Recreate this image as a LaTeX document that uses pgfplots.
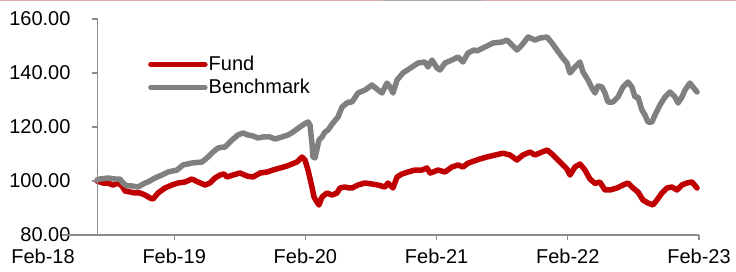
\documentclass[border=0pt]{standalone}
\usepackage{pgfplots}
\pgfplotsset{compat=1.18}
\usepackage{fontspec}
\setmainfont{Liberation Sans}
\definecolor{fundred}{HTML}{C00000}
\definecolor{benchgray}{HTML}{808080}
\definecolor{axgray}{HTML}{8C8C8C}
\definecolor{toppink}{HTML}{DDAAAA}
\definecolor{topgray}{HTML}{A8A8A8}
\begin{document}
\begin{tikzpicture}[x=1pt,y=1pt]
\begin{axis}[
  at={(43pt,36pt)}, anchor=south west,
  width=656pt, height=216pt, scale only axis,
  xmin=0, xmax=60, ymin=80, ymax=160,
  clip=false,
  axis line style={draw=none},
  major tick length=0pt,
  xtick={0,12,24,36,48,60},
  xticklabels={Feb-18,Feb-19,Feb-20,Feb-21,Feb-22,Feb-23},
  ytick={80,100,120,140,160},
  /pgf/number format/fixed,
  /pgf/number format/fixed zerofill,
  /pgf/number format/precision=2,
  /pgf/number format/assume math mode=true,
  ticklabel style={font=\fontsize{20}{24}\selectfont, text=black},
  yticklabel style={anchor=east, xshift=31pt},
  xticklabel style={anchor=north, yshift=-13pt, inner ysep=1pt},
  legend style={draw=none, fill=none, at={(axis cs:9.6,138.9)}, anchor=west,
    font=\fontsize{20}{24}\selectfont, inner sep=0pt, row sep=5pt,
    nodes={inner sep=1pt}},
  legend cell align=left,
  legend image code/.code={\draw[#1, line cap=round] (0pt,0pt) -- (54pt,0pt);},
  every axis plot/.append style={line width=5.5pt, line join=round, line cap=round},
]
\addplot[fundred] table {
4.94 100.00
5.49 99.26
5.94 99.26
6.40 98.52
6.86 99.26
7.23 98.15
7.50 96.30
7.96 95.93
8.41 95.56
8.87 95.56
9.33 94.81
9.79 93.70
10.06 93.33
10.52 95.56
11.16 97.41
11.80 98.52
12.35 99.26
12.99 99.63
13.63 100.74
14.18 99.63
14.82 98.52
15.27 99.26
15.73 101.11
16.19 102.22
16.55 102.59
16.83 101.48
17.38 102.22
18.02 102.96
18.66 101.85
19.21 101.48
19.85 102.96
20.49 103.33
21.04 104.07
21.68 104.81
22.32 105.56
22.77 106.30
23.23 107.04
23.69 108.89
23.96 107.78
24.24 104.07
24.60 97.78
24.79 94.07
25.06 92.22
25.24 91.11
25.52 94.07
25.97 95.56
26.43 94.81
26.89 95.56
27.16 97.41
27.62 97.78
27.99 97.41
28.26 97.41
28.81 98.52
29.45 99.26
30.09 98.89
30.64 98.52
31.28 97.78
31.55 99.26
32.01 97.41
32.38 101.48
32.83 102.59
33.38 103.33
34.02 104.07
34.66 104.07
35.12 104.81
35.40 102.96
35.67 103.33
36.13 104.07
36.77 103.33
37.41 105.19
37.96 105.93
38.41 105.19
38.87 106.60
39.42 107.40
40.00 108.20
40.61 108.90
41.34 109.60
42.07 110.30
42.71 109.63
43.35 107.78
43.90 109.63
44.54 110.74
45.00 109.63
45.64 110.74
46.10 111.48
46.55 110.00
47.01 108.15
47.47 106.30
47.92 104.44
48.20 102.22
48.66 105.19
49.11 106.30
49.57 104.07
50.03 100.70
50.49 99.10
50.94 99.60
51.40 96.67
51.86 96.67
52.50 97.41
53.05 98.52
53.50 99.26
53.96 97.41
54.42 95.93
54.87 92.96
55.33 91.85
55.79 91.11
56.15 92.96
56.61 95.56
57.07 97.41
57.53 97.78
57.99 96.67
58.44 98.52
58.90 99.26
59.36 99.63
59.82 97.41
};
\addlegendentry{Fund}
\addplot[benchgray] table {
4.94 100.37
5.21 100.74
5.94 101.11
6.59 100.74
7.04 100.74
7.32 99.26
7.68 98.15
8.14 98.15
8.69 97.78
9.33 99.26
9.60 99.63
10.24 101.11
10.88 102.22
11.43 103.33
12.26 104.07
12.80 105.93
13.63 106.67
14.54 107.04
15.09 108.89
15.55 110.74
16.01 112.22
16.46 112.59
16.65 112.59
17.29 115.19
17.83 117.04
18.29 117.78
18.75 117.04
19.21 116.67
19.66 115.93
20.12 116.30
20.76 116.30
21.22 115.56
21.86 116.30
22.41 117.04
22.87 118.15
23.50 120.00
24.05 121.48
24.24 121.85
24.42 120.74
24.60 114.07
24.69 108.89
24.88 108.52
25.06 111.85
25.24 115.19
25.52 116.30
25.79 118.15
26.07 118.89
26.52 121.48
26.98 123.70
27.35 127.41
27.80 128.89
27.99 129.26
28.26 129.26
28.81 132.59
29.45 133.70
30.09 135.56
30.64 133.70
31.01 132.59
31.46 136.30
31.74 134.81
32.01 132.59
32.38 137.41
32.92 140.00
33.75 142.22
34.30 143.70
34.94 144.07
35.21 142.22
35.58 144.81
36.04 141.85
36.31 141.11
36.77 143.70
37.41 144.81
37.96 145.93
38.41 144.07
38.87 147.41
39.42 148.52
39.69 148.20
40.43 149.63
41.16 151.11
41.98 151.48
42.44 152.22
42.89 150.37
43.35 148.52
43.81 150.37
44.36 153.33
45.00 152.22
45.46 152.96
46.10 153.33
46.55 151.11
47.01 148.52
47.47 145.93
47.92 143.70
48.20 140.00
48.66 142.22
49.11 144.07
49.39 140.37
49.85 137.41
50.21 134.44
50.49 132.59
50.76 135.20
51.13 134.81
51.40 132.59
51.67 129.26
52.13 129.26
52.59 131.11
53.05 134.81
53.50 136.67
53.87 134.81
54.14 131.11
54.42 131.11
54.78 126.30
55.06 124.44
55.33 121.85
55.70 121.85
55.97 124.44
56.43 128.15
56.89 131.11
57.35 132.96
57.80 131.11
58.08 128.89
58.44 131.11
58.72 133.70
59.17 136.30
59.45 134.81
59.82 132.96
};
\addlegendentry{Benchmark}
\draw[axgray, line width=1.5pt] (axis cs:1.7,80) -- (axis cs:60,80);
\draw[axgray, line width=1.5pt] (axis cs:5,80) -- (axis cs:5,160);
\pgfplotsinvokeforeach{80,100,120,140,160}{\draw[axgray, line width=1.2pt] (axis cs:5,#1) -- ++(-6pt,0pt);}
\pgfplotsinvokeforeach{12,24,36,48,60}{\draw[axgray, line width=1.2pt] (axis cs:#1,80) -- ++(0pt,-5pt);}
\end{axis}
\draw[toppink, line width=1.5pt] (0pt,270.5pt) -- (383pt,270.5pt);
\draw[topgray, line width=1.5pt] (383pt,270.5pt) -- (482pt,270.5pt);
\draw[toppink, line width=1.5pt] (482pt,270.5pt) -- (736pt,270.5pt);
\pgfresetboundingbox
\path[use as bounding box] (0pt,0pt) rectangle (736pt,271pt);
\end{tikzpicture}
\end{document}
